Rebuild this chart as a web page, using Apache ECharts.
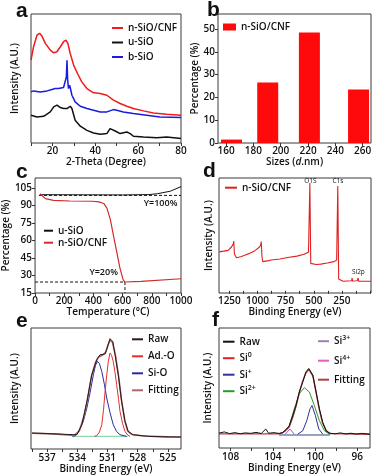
<!DOCTYPE html>
<html>
<head>
<meta charset="utf-8">
<script src="https://cdn.jsdelivr.net/npm/echarts@6/dist/echarts.min.js"></script>
<style>
  html, body { margin: 0; padding: 0; background: #fff; }
  #chart { width: 376px; height: 475px; }
</style>
</head>
<body>
<div id="chart"></div>
<script>
// ---- (a) XRD, 2-theta vs intensity (a.u.)
const xrdCnf = [[10,64.2],[11.2,74.6],[12.8,83.7],[14,85],[15.1,82.9],[16.7,77.2],[19,72],[20.6,69.9],[22.1,70.7],[23.7,74.6],[25.2,78.5],[26.3,79.8],[27.2,77.2],[28.3,69.4],[29.9,60.4],[31.7,53.9],[33.7,47.4],[36.1,42.2],[39.2,38.9],[42.3,38.3],[45.4,37],[48.5,33.2],[51.6,30.6],[54.7,28.5],[57.8,26.7],[62.5,24.9],[67.1,23.3],[73.3,22.3],[80,21.5]];
const xrdU = [[10,21.5],[12.8,20.2],[15.9,20.7],[19,24.1],[20.6,28],[22.1,29.3],[23.7,27.5],[25.2,26.7],[26.8,26.7],[28.3,28.5],[29.1,26.7],[30.6,17.6],[33,13],[36.1,9.8],[39.2,7.8],[42.3,6.7],[45.4,7.3],[46.9,11.1],[47.7,12.4],[49.3,9.3],[51.6,7.3],[54.7,8.5],[56.3,7.3],[57.8,5.2],[62.5,4.7],[68.7,4.1],[73.3,4.7],[80,3.4]];
const xrdB = [[10,39.6],[11.2,40.4],[14.3,39.6],[17.5,40.4],[19.8,41.5],[20.6,43],[21.3,42.2],[22.9,42.2],[25.2,43],[26,41.5],[26.5,51.3],[26.8,64.2],[27.1,48.7],[27.5,42.2],[28,44.8],[28.3,43],[29.1,37],[30.6,31.9],[33,28.5],[36.1,26.7],[39.2,25.4],[42.3,24.1],[45.4,24.1],[48.5,25.9],[50,25.4],[53.1,24.1],[57.8,22.8],[64,21.5],[70.2,20.2],[80,19.7]];

// ---- (b) size distribution
const sizeBins = [164, 190.5, 221, 257];
const sizePct = [1.5, 26.5, 48.5, 23.5];

// ---- (c) TGA
const tgaU = [[33,99.2],[300,99.1],[600,99],[780,99.3],[838,100],[927,102.2],[1000,106.1]];
const tgaCnf = [[33,100],[71,95.8],[127,94.4],[238,93.8],[393,93.6],[438,93],[471,91.7],[493,87.5],[516,77.8],[538,63.8],[560,50],[582,36.1],[604,26.3],[616,24.4],[727,25],[1000,27.2]];
const tgaRef100 = [[27,98.6],[1000,98.6]];
const tgaRef20 = [[0,24.4],[616,24.4],[616,15]];
const tgaNotes = [[860,91.9,'Y=100%'],[470,32.5,'Y=20%']];

// ---- (d) XPS survey
const survey = [[1340,34.8],[1300,35.5],[1261,36.2],[1231,39.2],[1215,42],[1211,44.5],[1205,33],[1196,31.8],[1187,29.6],[1150,30.5],[1114,31.8],[1070,33.5],[1026,35.7],[982,39.2],[972,41],[967,44.1],[960,30],[953,26.1],[900,27],[879,27.5],[800,28.5],[732,29.8],[650,31],[585,32.7],[547,34.8],[540,36],[535,96.5],[531,95.5],[527,24.5],[521,23.1],[480,23.5],[438,23.9],[380,24.8],[321,26.1],[297,27.5],[291,29],[287,93.9],[283,93],[279,10.5],[274,9.9],[240,8.5],[200,8.8],[164,9],[160,11.4],[156,8.7],[115,9],[106,11.4],[102,8.6],[60,8.5],[-8,8.5]];
const surveyNotes = [[530,98.5,'O1S'],[286,98.5,'C1s'],[104,17,'Si2p']];

// ---- (e) O 1s
const oRaw = [[538.5,13.2],[537,12.8],[535.5,12.2],[534.5,11.9],[534.04,11.8],[533.55,20.1],[533.05,39.3],[532.56,61.4],[532.06,73.8],[531.74,77.9],[531.24,78.5],[531.08,82.1],[530.75,91.2],[530.48,88.9],[530.25,77.9],[529.93,61.4],[529.6,39.3],[529.26,22.8],[528.94,14.5],[528.45,11.8],[527.5,11],[526.8,10.4],[525.5,10.1],[523.7,9.9]];
const oFit = [[538.5,13],[536,12.3],[534.3,11.2],[533.8,15],[533.3,28],[533,40],[532.6,60],[532.2,71.5],[531.9,76],[531.5,77.5],[531.2,80],[530.95,86],[530.75,90],[530.5,88],[530.2,77],[529.9,60],[529.6,40],[529.3,24],[529,15],[528.6,12],[527.5,10.8],[525,10],[523.7,9.9]];
const oSiO = [[534.5,10.4],[534.2,11],[533.8,15],[533.4,23],[533.05,33.9],[532.7,48],[532.4,61.4],[532.2,69],[532,72.4],[531.8,70.5],[531.57,64.1],[531.3,53],[531.08,42.1],[530.75,30],[530.43,20.1],[530.1,14.5],[529.76,11.8],[529.1,10.4]];
const oAdO = [[532.3,10.4],[532.06,11],[531.8,14],[531.57,20.1],[531.4,32],[531.24,47.6],[531.08,61],[530.92,72.4],[530.75,79.3],[530.6,77.5],[530.43,72.4],[530.25,63],[530.09,53.1],[529.9,41],[529.76,31.1],[529.5,21],[529.26,14.5],[529,11.5],[528.77,10.4]];
const oBase = [[534.4,10.4],[529,10.4]];

// ---- (f) Si 2p
const siRaw = [[109.1,12.4],[108.6,13.4],[108.1,12],[107.6,12.8],[107.1,11.9],[106.6,12.6],[106.1,12.2],[105.6,13],[105.1,12.1],[104.67,15.8],[104.4,12.3],[103.9,12.8],[103.4,12.1],[103.08,12.9],[102.76,15.2],[102.45,18.5],[102.12,27],[101.81,35.4],[101.5,46.6],[101.17,55],[100.86,63.4],[100.6,66.3],[100.48,67.6],[100.22,60.7],[99.9,46.6],[99.59,32.6],[99.27,21.3],[98.95,14.3],[98.64,12.4],[98.1,11.8],[97.6,12.6],[97.1,11.7],[96.6,12.3],[96.1,11.6],[95.6,12.2],[94.8,11.5]];
const siFit = [[109.1,11.8],[103.5,11.8],[103.1,12.5],[102.8,14.5],[102.45,17.5],[102.1,26],[101.8,35],[101.5,46],[101.2,55],[100.9,62],[100.6,65.5],[100.45,66],[100.2,60],[99.9,46],[99.6,32],[99.3,21],[98.95,14.5],[98.6,12],[94.8,11.5]];
const si0 = [[103.4,10.8],[98.6,10.8]];
const si1 = [[101.65,11.5],[101.17,14.3],[100.79,22.7],[100.48,32.6],[100.29,35.4],[99.97,27],[99.65,15.8],[99.27,11.5]];
const si2 = [[103.08,12.4],[102.45,18.5],[101.97,32.6],[101.5,45.2],[101.02,50.3],[100.54,46.6],[100.07,35.4],[99.59,22.7],[99.11,14.3],[98.64,11.5]];
const si3 = [[102.83,11.5],[102.38,15.8],[101.97,11.5]];
const si4 = [[103.4,10.9],[98.6,10.9]];
const siBase = [[103.4,10.7],[98.64,10.7]];

const FONT = 'Open Sans';
const tickText = { fontFamily: FONT, fontSize: 10, fontWeight: 600, color: '#111' };
const nameText = { fontFamily: FONT, fontSize: 10, fontWeight: 600, color: '#111' };
const legendText = { fontFamily: FONT, fontSize: 10, fontWeight: 600, color: '#111', lineHeight: 12 };
const plain = v => String(v);

function xAx(grid, min, max, labels, ticks, name, opts) {
  return Object.assign({
    type: 'value', gridIndex: grid, min, max,
    axisLine: { show: false }, splitLine: { show: false },
    axisTick: { show: true, length: 3, customValues: ticks, lineStyle: { color: '#333' } },
    axisLabel: Object.assign({ customValues: labels, margin: 3, formatter: plain }, tickText),
    name, nameLocation: 'middle', nameGap: 14, nameTextStyle: nameText
  }, opts || {});
}
function yAx(grid, min, max, labels, name, gap) {
  return {
    type: 'value', gridIndex: grid, min, max,
    axisLine: { show: false }, splitLine: { show: false },
    axisTick: { show: !!labels, length: 3, customValues: labels || [], lineStyle: { color: '#333' } },
    axisLabel: Object.assign({ show: !!labels, customValues: labels || [], margin: 3, formatter: plain }, tickText),
    name, nameLocation: 'middle', nameGap: gap, nameRotate: 90, nameTextStyle: nameText
  };
}
function line(i, name, data, color, width, extra) {
  return Object.assign({
    type: 'line', name, xAxisIndex: i, yAxisIndex: i, data,
    symbol: 'none', color, lineStyle: { color, width: width || 1 },
    animation: false, z: 3
  }, extra || {});
}
function leg(left, top, gap, w, items) {
  return {
    left, top, orient: 'vertical', padding: 0, itemGap: gap,
    itemWidth: w, itemHeight: 2, icon: 'rect', textStyle: legendText,
    selectedMode: false,
    data: items.map(([n, c, h]) => ({ name: n, itemStyle: { color: c }, itemHeight: h }))
  };
}
function notes(arr, size, weight) {
  return {
    symbol: 'rect', symbolSize: 0, silent: true,
    label: { show: true, position: 'inside', fontFamily: FONT, fontSize: size, fontWeight: weight, color: '#111',
      formatter: p => p.name },
    data: arr.map(([x, y, t]) => ({ coord: [x, y], name: t }))
  };
}

const supNames = {
  'Si0': '{t|Si}{s|0}', 'Si+': '{t|Si}{s|+}', 'Si2+': '{t|Si}{s|2+}',
  'Si3+': '{t|Si}{s|3+}', 'Si4+': '{t|Si}{s|4+}'
};
const richSup = {
  t: { fontFamily: FONT, fontSize: 10, fontWeight: 600, color: '#111' },
  s: { fontFamily: FONT, fontSize: 7, fontWeight: 600, color: '#111', padding: [0, 0, 6, 0] }
};

const chart = echarts.init(document.getElementById('chart'), null, { renderer: 'canvas' });

const gridStyle = { show: true, borderColor: '#3a3a3a', borderWidth: 1, backgroundColor: 'transparent', containLabel: false };

chart.setOption({
  animation: false,
  backgroundColor: '#fff',
  grid: [
    Object.assign({ left: 31, top: 14, width: 150, height: 129 }, gridStyle),
    Object.assign({ left: 218, top: 14, width: 153, height: 129 }, gridStyle),
    Object.assign({ left: 31, top: 178, width: 150, height: 115 }, gridStyle),
    Object.assign({ left: 219, top: 178, width: 152, height: 115 }, gridStyle),
    Object.assign({ left: 31, top: 328, width: 150, height: 121 }, gridStyle),
    Object.assign({ left: 219, top: 328, width: 151, height: 120 }, gridStyle)
  ],
  xAxis: [
    xAx(0, 10, 80, [20, 40, 60, 80], [10, 20, 30, 40, 50, 60, 70, 80], '2-Theta (Degree)'),
    xAx(1, 154.1, 266.1, [160, 180, 200, 220, 240, 260], [160, 180, 200, 220, 240, 260],
      '{n|Sizes (}{i|d}{n|.nm)}',
      { nameTextStyle: Object.assign({}, nameText, { rich: {
        n: nameText, i: Object.assign({}, nameText, { fontStyle: 'italic' }) } }) }),
    xAx(2, 0, 1000, [0, 200, 400, 600, 800, 1000], [0, 100, 200, 300, 400, 500, 600, 700, 800, 900, 1000],
      'Temperature (°C)', { nameGap: 12 }),
    xAx(3, -8, 1342, [1250, 1000, 750, 500, 250], [1250, 1125, 1000, 875, 750, 625, 500, 375, 250, 125, 0],
      'Binding Energy (eV)', { inverse: true, nameGap: 12 }),
    xAx(4, 523.7, 538.6, [525, 528, 531, 534, 537], [525, 526.5, 528, 529.5, 531, 532.5, 534, 535.5, 537, 538.5],
      'Binding Energy (eV)', { inverse: true, nameGap: 12, axisLabel: Object.assign({ customValues: [525, 528, 531, 534, 537], margin: 4, formatter: plain }, tickText) }),
    xAx(5, 94.8, 109.1, [96, 100, 104, 108], [96, 98, 100, 102, 104, 106, 108],
      'Binding Energy (eV)', { inverse: true, nameGap: 10, axisLabel: Object.assign({ customValues: [96, 100, 104, 108], margin: 4, formatter: plain }, tickText) })
  ],
  yAxis: [
    yAx(0, 0, 100, null, 'Intensity (A.U.)', 11),
    yAx(1, 0, 56.6, [0, 10, 20, 30, 40, 50], 'Percentage (%)', 17),
    yAx(2, 15, 113.5, [15, 30, 45, 60, 75, 90, 105], 'Percentage (%)', 18),
    yAx(3, -2, 101, null, 'Intensity (A.U.)', 5),
    yAx(4, 0, 100, null, 'Intensity (A.U.)', 11),
    yAx(5, 0, 100, null, 'Intensity (A.U.)', 6)
  ],
  legend: [
    leg(112, 22, 2.5, 11, [['n-SiO/CNF', '#ee1c1c'], ['u-SiO', '#111'], ['b-SiO', '#1a1ae0']]),
    Object.assign(leg(223, 21, 0, 13, [['n-SiO/CNF', '#ff0a0a']]), { itemHeight: 7 }),
    leg(44, 224.7, 0, 9, [['u-SiO', '#111'], ['n-SiO/CNF', '#d42a2a']]),
    leg(225, 181.7, 0, 12, [['n-SiO/CNF', '#e02020']]),
    leg(132, 333.3, 5, 11, [['Raw', '#2b1a1a'], ['Ad.-O', '#e03030'], ['Si-O', '#2a2aa0'], ['Fitting', '#a86a6a', 3]]),
    Object.assign(leg(223, 335.7, 4, 11.5, [['Raw', '#111'], ['Si0', '#e02020'], ['Si+', '#3030a0'], ['Si2+', '#2a9a2a']]),
      { formatter: n => supNames[n] || n, textStyle: Object.assign({}, legendText, { rich: richSup }) }),
    Object.assign(leg(318, 334.7, 7, 11, [['Si3+', '#a080b0'], ['Si4+', '#e060c0'], ['Fitting', '#b04040']]),
      { formatter: n => supNames[n] || n, textStyle: Object.assign({}, legendText, { rich: richSup }) })
  ],
  graphic: [
    ['a', 16, 1], ['b', 207, 0], ['c', 16, 162], ['d', 203, 161], ['e', 16, 311], ['f', 212, 310]
  ].map(([t, x, y]) => ({
    type: 'text', left: x, top: y, silent: true,
    style: { text: t, font: 'bold 21px "Liberation Sans"', fill: '#111' }
  })),
  series: [
    line(0, 'u-SiO', xrdU, '#111', 1.5),
    line(0, 'b-SiO', xrdB, '#1a1ae0', 1.5),
    line(0, 'n-SiO/CNF', xrdCnf, '#ee1c1c', 1.5),
    {
      type: 'bar', name: 'n-SiO/CNF', xAxisIndex: 1, yAxisIndex: 1, barWidth: 21,
      data: sizeBins.map((x, k) => [x, sizePct[k]]),
      itemStyle: { color: '#ff0a0a' }, animation: false
    },
    line(2, 'ref100', tgaRef100, '#111', 1, { lineStyle: { color: '#111', width: 1, type: [3, 2] } }),
    line(2, 'ref20', tgaRef20, '#111', 1, { lineStyle: { color: '#111', width: 1, type: [3, 2] },
      markPoint: notes(tgaNotes, 9, 600) }),
    line(2, 'u-SiO', tgaU, '#111', 1),
    line(2, 'n-SiO/CNF', tgaCnf, '#d42a2a', 1.2),
    line(3, 'n-SiO/CNF', survey, '#e02020', 1.1, { markPoint: notes(surveyNotes, 6.5, 400) }),
    line(4, 'base', oBase, '#8fdcb0', 1.2),
    line(4, 'Si-O', oSiO, '#2a2aa0', 1),
    line(4, 'Ad.-O', oAdO, '#e03030', 1),
    line(4, 'Fitting', oFit, '#a86a6a', 1.6),
    line(4, 'Raw', oRaw, '#2b1a1a', 1),
    line(5, 'Si0', si0, '#e02020', 1),
    line(5, 'Si4+', si4, '#e060c0', 1),
    line(5, 'cyan', siBase, '#40d0d8', 1.2),
    line(5, 'Si3+', si3, '#b050b0', 1),
    line(5, 'Si2+', si2, '#2a9a2a', 1),
    line(5, 'Si+', si1, '#3030a0', 1),
    line(5, 'Fitting', siFit, '#b04040', 1.4),
    line(5, 'Raw', siRaw, '#111', 1)
  ]
});
</script>
</body>
</html>
